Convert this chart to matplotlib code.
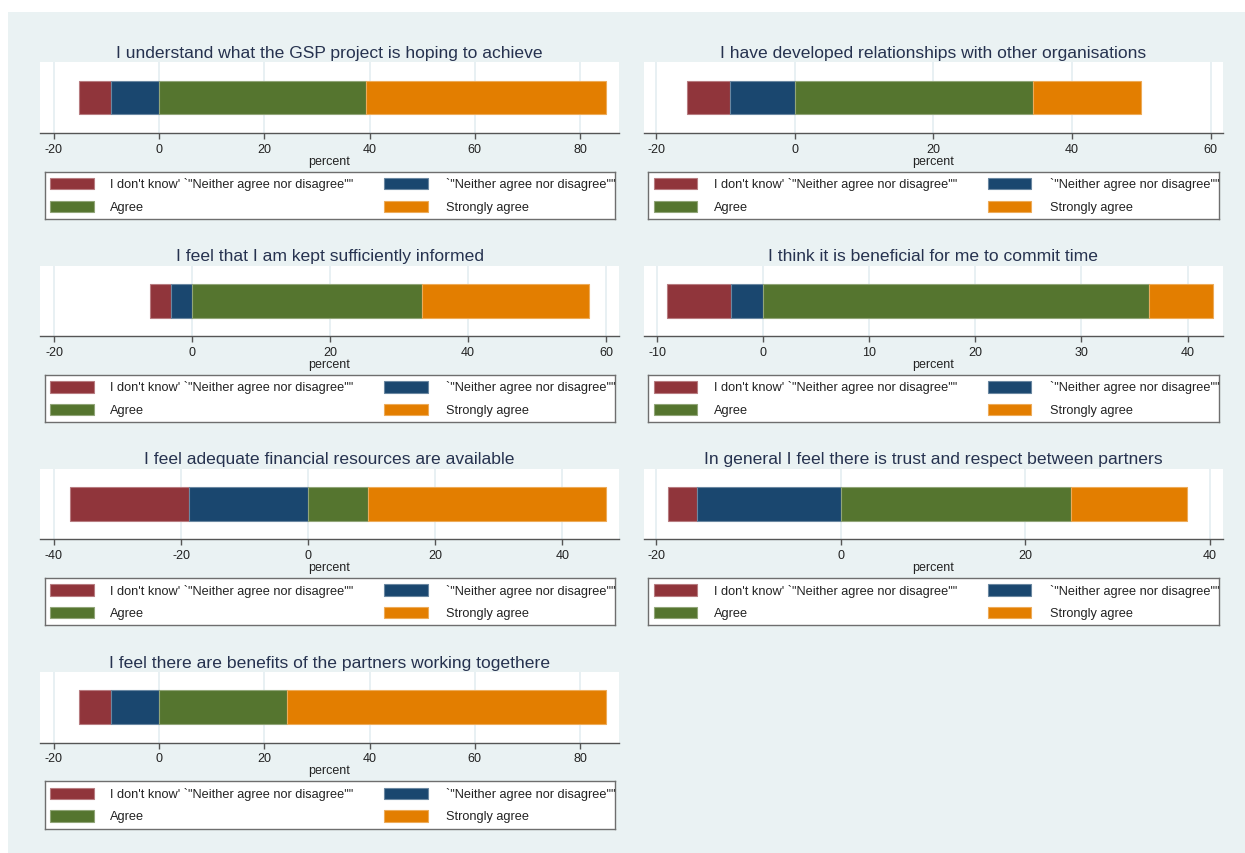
import matplotlib
matplotlib.use("Agg")
import matplotlib.pyplot as plt
from matplotlib.patches import Rectangle
from matplotlib.colors import to_rgb

plt.rcParams['font.family'] = ['Liberation Sans', 'DejaVu Sans']

# ---- data -------------------------------------------------------------
titles = [
    "I understand what the GSP project is hoping to achieve",
    "I have developed relationships with other organisations",
    "I feel that I am kept sufficiently informed",
    "I think it is beneficial for me to commit time",
    "I feel adequate financial resources are available",
    "In general I feel there is trust and respect between partners",
    "I feel there are benefits of the partners working togethere",
]
categories = [
    "I don't know' `\"Neither agree nor disagree\"\"",
    "`\"Neither agree nor disagree\"\"'",
    "Agree",
    "Strongly agree",
]
dont_know = [6.06, 6.25, 3.03, 6.06, 18.75, 3.125, 6.06]
neither = [9.09, 9.375, 3.03, 3.03, 18.75, 15.625, 9.09]
agree = [39.39, 34.375, 33.33, 36.36, 9.375, 25.0, 24.24]
strongly_agree = [45.45, 15.625, 24.24, 6.06, 37.5, 12.5, 60.61]

x_ticks = [
    [-20, 0, 20, 40, 60, 80],
    [-20, 0, 20, 40, 60],
    [-20, 0, 20, 40, 60],
    [-10, 0, 10, 20, 30, 40],
    [-40, -20, 0, 20, 40],
    [-20, 0, 20, 40],
    [-20, 0, 20, 40, 60, 80],
]
x_limits = [
    (-22.6, 87.4), (-21.7, 61.7), (-22.05, 61.9), (-11.2, 43.3),
    (-42.2, 48.9), (-21.3, 41.4), (-22.6, 87.4),
]

# ---- style -------------------------------------------------------------
colors = ["#90353B", "#1A476F", "#55752F", "#E37E00"]
bg = "#EAF2F3"
title_color = "#26324F"
axis_color = "#555555"


def lighten(c, f=0.35):
    r, g, b = to_rgb(c)
    return (r + (1 - r) * f, g + (1 - g) * f, b + (1 - b) * f)


W, H = 1245, 854
fig = plt.figure(figsize=(W / 100, H / 100), dpi=100)
fig.patch.set_facecolor("white")
fig.patches.append(Rectangle((8 / W, 0), 1 - 8 / W, 1 - 13 / H,
                             transform=fig.transFigure, facecolor=bg,
                             edgecolor="none", zorder=-10))


def fig_rect(x0, y0, x1, y1):
    """pixel box (top-left origin) -> figure fraction rect"""
    return [x0 / W, 1 - y1 / H, (x1 - x0) / W, (y1 - y0) / H]


col_x = [(40, 619), (644.5, 1222.5)]
leg_x = [(44.5, 615), (648.4, 1218.6)]
row_step = 203.2

for i, title in enumerate(titles):
    r, c = divmod(i, 2)
    off = r * row_step
    x0, x1 = col_x[c]
    ax = fig.add_axes(fig_rect(x0, 63.3 + off, x1, 134 + off))
    ax.set_facecolor("white")

    dk, ne, ag, sa = dont_know[i], neither[i], agree[i], strongly_agree[i]
    lefts = [-(dk + ne), -ne, 0, ag]
    widths = [dk, ne, ag, sa]
    for left, w, col in zip(lefts, widths, colors):
        ax.barh(0, w, left=left, height=1.0, color=col,
                edgecolor=lighten(col), linewidth=0.8, zorder=3)

    ax.set_xlim(*x_limits[i])
    ax.set_ylim(-1.05, 1.05)
    ax.set_xticks(x_ticks[i])
    ax.set_xticklabels([str(t) for t in x_ticks[i]])
    ax.set_yticks([])
    ax.grid(axis="x", color="#E4EEF1", linewidth=1.2, zorder=0)
    for s in ["top", "left", "right"]:
        ax.spines[s].set_visible(False)
    ax.spines["bottom"].set_color(axis_color)
    ax.spines["bottom"].set_linewidth(1.0)
    ax.tick_params(axis="x", colors=axis_color, length=4, width=1,
                   labelsize=9, labelcolor="#222222", pad=3)
    ax.set_xlabel("percent", fontsize=9, color="#222222", labelpad=0)

    fig.text((x0 + x1) / 2 / W, 1 - (53.5 + off) / H, title,
             ha="center", va="center", fontsize=12.6, color=title_color)

    # legend box
    lx0, lx1 = leg_x[c]
    ly0, ly1 = 172.7 + off, 220 + off
    lw_px = lx1 - lx0
    lh_px = ly1 - ly0
    lax = fig.add_axes(fig_rect(lx0, ly0, lx1, ly1))
    lax.set_xlim(0, lw_px)
    lax.set_ylim(lh_px, 0)
    lax.set_xticks([])
    lax.set_yticks([])
    lax.set_facecolor("white")
    for s in lax.spines.values():
        s.set_color("#6E6E6E")
        s.set_linewidth(1.0)
    key_x = [5.5, 339.5]
    text_x = [65.5, 401.5]
    row_y = [6.3, 29.0]
    for k, (cat, col) in enumerate(zip(categories, colors)):
        rr, cc = divmod(k, 2)
        lax.add_patch(Rectangle((key_x[cc], row_y[rr]), 43.5, 11.3,
                                facecolor=col, edgecolor=lighten(col),
                                linewidth=0.8))
        lax.text(text_x[cc], row_y[rr] + 5.8, cat, fontsize=9.2,
                 color="#222222", va="center", ha="left", clip_on=True)

fig.savefig("out.png", dpi=100, facecolor=fig.get_facecolor())
